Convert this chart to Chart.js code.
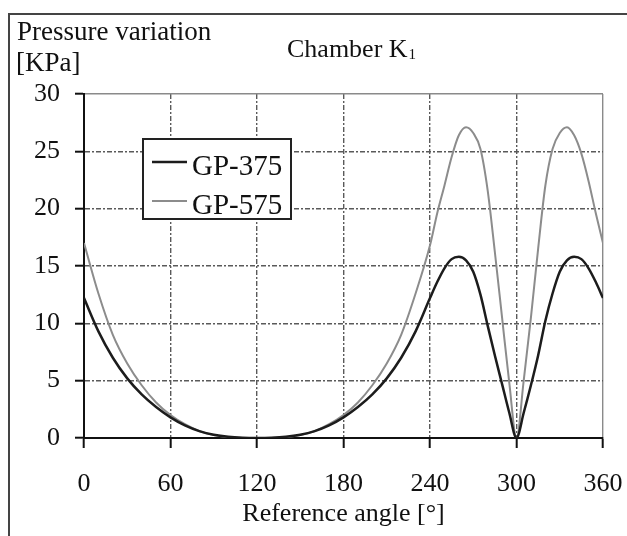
<!DOCTYPE html>
<html>
<head>
<meta charset="utf-8">
<script src="https://cdn.jsdelivr.net/npm/chart.js@4.4.0/dist/chart.umd.min.js"></script>
<style>
html, body { margin: 0; padding: 0; background: #fff; }
#wrap { position: relative; width: 627px; height: 536px; }
</style>
</head>
<body>
<div id="wrap"><canvas id="PressureChart" width="627" height="536"></canvas></div>
<script>
// reference angle [deg]
const angles = [0, 10, 20, 30, 40, 50, 60, 70, 80, 90, 100, 110, 120, 130, 140, 150, 160, 170, 180,
    190, 200, 210, 220, 230, 240, 245, 250, 255, 260, 265, 270, 275, 280, 285, 290, 295, 300,
    305, 310, 315, 320, 325, 330, 335, 340, 345, 350, 355, 360];

// pressure variation [KPa]
const gp375 = [12.2, 9.3, 7.0, 5.2, 3.8, 2.7, 1.8, 1.1, 0.6, 0.28, 0.1, 0.02, 0, 0.02, 0.1, 0.28, 0.6, 1.1, 1.8,
    2.7, 3.8, 5.2, 7.0, 9.3, 12.2, 13.6, 14.8, 15.6, 15.8, 15.5, 14.5, 12.5, 9.8, 7.2, 4.7, 2.2, 0,
    2.2, 4.6, 7.2, 10.2, 12.6, 14.5, 15.5, 15.8, 15.6, 14.8, 13.6, 12.2];

const gp575 = [17.0, 12.6, 9.0, 6.5, 4.6, 3.1, 2.0, 1.2, 0.6, 0.25, 0.07, 0.01, 0, 0.01, 0.07, 0.25, 0.6, 1.2, 2.0,
    3.1, 4.6, 6.5, 9.0, 12.6, 16.8, 19.6, 22.0, 24.5, 26.4, 27.1, 26.6, 25.2, 21.6, 16.2, 10.5, 4.8, 0,
    5.0, 10.5, 16.5, 22.0, 25.2, 26.6, 27.1, 26.4, 24.8, 22.4, 19.6, 17.0];

const seriesNames = ['GP-375', 'GP-575'];
const seriesColors = ['#1c1c1c', '#8c8c8c'];
const xTicks = [0, 60, 120, 180, 240, 300, 360];
const yTicks = [0, 5, 10, 15, 20, 25, 30];

const serif = "'Liberation Serif', 'Times New Roman', serif";

function toPoints(values) {
    return angles.map((a, i) => ({ x: a, y: values[i] }));
}

// outer frame, axis captions and boxed legend
const decorations = {
    id: 'decorations',
    beforeDraw(chart) {
        const ctx = chart.ctx;
        ctx.save();
        ctx.strokeStyle = '#444';
        ctx.lineWidth = 2;
        ctx.beginPath();
        ctx.moveTo(9, 540);
        ctx.lineTo(9, 14);
        ctx.lineTo(630, 14);
        ctx.stroke();
        ctx.restore();
    },
    afterDraw(chart) {
        const ctx = chart.ctx;
        ctx.save();
        ctx.fillStyle = '#111';
        ctx.textBaseline = 'alphabetic';
        ctx.textAlign = 'left';
        ctx.font = '27px ' + serif;
        ctx.fillText('Pressure variation', 17, 40);
        ctx.fillText('[KPa]', 16, 71);
        ctx.font = '26px ' + serif;
        ctx.fillText('Chamber K', 287, 57);
        const w = ctx.measureText('Chamber K').width;
        ctx.font = '15px ' + serif;
        ctx.fillText('1', 287 + w + 1, 59);

        // legend box
        const bx = 143, by = 139, bw = 148, bh = 80;
        ctx.fillStyle = '#fff';
        ctx.fillRect(bx, by, bw, bh);
        ctx.strokeStyle = '#222';
        ctx.lineWidth = 2;
        ctx.strokeRect(bx, by, bw, bh);
        ctx.font = '29px ' + serif;
        chart.data.datasets.forEach((ds, i) => {
            const ly = 162 + i * 39;
            ctx.strokeStyle = ds.borderColor;
            ctx.lineWidth = ds.borderWidth;
            ctx.beginPath();
            ctx.moveTo(152, ly);
            ctx.lineTo(187, ly);
            ctx.stroke();
            ctx.fillStyle = '#111';
            ctx.fillText(ds.label, 192, ly + 13);
        });
        ctx.restore();
    }
};

const gridColor = (edge) => (ctx) => (ctx.tick && ctx.tick.value === edge) ? '#8a8a8a' : '#5a5a5a';
const gridDash = (edge) => (ctx) => (ctx.type === 'tick' && ctx.tick.value !== edge && ctx.tick.value !== 0) ? [5, 2, 2, 2] : [];

const config = {
    type: 'line',
    data: {
        datasets: [{
            label: seriesNames[0],
            data: toPoints(gp375),
            borderColor: seriesColors[0],
            borderWidth: 2.5,
            pointRadius: 0,
            fill: false,
            cubicInterpolationMode: 'monotone'
        }, {
            label: seriesNames[1],
            data: toPoints(gp575),
            borderColor: seriesColors[1],
            borderWidth: 2,
            pointRadius: 0,
            fill: false,
            cubicInterpolationMode: 'monotone'
        }]
    },
    options: {
        responsive: false,
        animation: false,
        layout: {
            padding: { top: 94, right: 24, left: 0, bottom: 0 }
        },
        plugins: {
            legend: { display: false },
            tooltip: { enabled: false }
        },
        scales: {
            x: {
                type: 'linear',
                min: 0,
                max: 360,
                afterBuildTicks: (scale) => { scale.ticks = xTicks.map(v => ({ value: v })); },
                afterFit: (scale) => {
                    scale.height = 98;
                    scale.paddingLeft = 0;
                    scale.paddingRight = 0;
                },
                ticks: {
                    color: '#111',
                    font: { family: serif, size: 26 },
                    padding: 21,
                    maxRotation: 0
                },
                grid: {
                    color: gridColor(360),
                    lineWidth: 1.4,
                    tickColor: '#111',
                    tickWidth: 2,
                    tickLength: 10
                },
                border: {
                    color: '#111',
                    width: 2,
                    dash: gridDash(360)
                },
                title: {
                    display: true,
                    text: 'Reference angle [°]',
                    color: '#111',
                    font: { family: serif, size: 26 },
                    padding: { top: 0, bottom: 6 }
                }
            },
            y: {
                min: 0,
                max: 30,
                afterBuildTicks: (scale) => { scale.ticks = yTicks.map(v => ({ value: v })); },
                afterFit: (scale) => { scale.width = 84; },
                ticks: {
                    color: '#111',
                    font: { family: serif, size: 26 },
                    padding: 15
                },
                grid: {
                    color: gridColor(30),
                    lineWidth: 1.4,
                    tickColor: '#111',
                    tickWidth: 2,
                    tickLength: 9
                },
                border: {
                    color: '#111',
                    width: 2,
                    dash: gridDash(30)
                }
            }
        }
    },
    plugins: [decorations]
};

const chart = new Chart(
    document.getElementById('PressureChart'),
    config
);
</script>
</body>
</html>
